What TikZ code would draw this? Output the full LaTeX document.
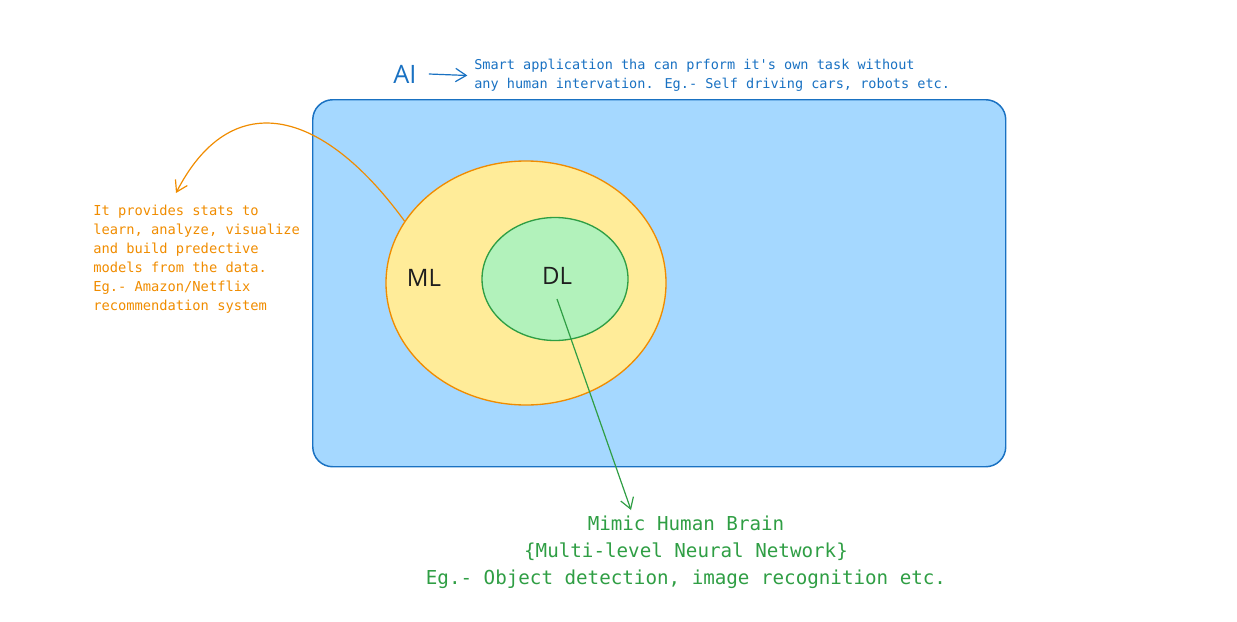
\documentclass[tikz,border=0pt]{standalone}
\usepackage{fontspec}
\setmainfont{DejaVu Sans Mono}[Ligatures=TeXOff]
\newfontfamily\handfont{Open Sans}
\usetikzlibrary{shapes.geometric,arrows.meta}
\definecolor{aifill}{HTML}{A5D8FF}
\definecolor{aistroke}{HTML}{1971C2}
\definecolor{mlfill}{HTML}{FFEC99}
\definecolor{mlstroke}{HTML}{F08C00}
\definecolor{dlfill}{HTML}{B2F2BB}
\definecolor{dlstroke}{HTML}{2F9E44}
\definecolor{ink}{HTML}{1E1E1E}
\tikzset{
  bigbox/.style={draw=aistroke,fill=aifill,line width=1.1pt,rounded corners=15pt},
  blob/.style={ellipse,inner sep=0pt,line width=1pt},
  tag/.style={font=\handfont\fontsize{18}{20}\selectfont,text=ink,inner sep=0pt},
  note/.style={inner sep=0pt,align=left,font=\fontsize{10.3}{14.25}\selectfont},
  conn/.style={line width=0.9pt,-{Straight Barb[length=8pt,width=10pt]}}
}
\begin{document}
\begin{tikzpicture}[x=0.75pt,y=-0.75pt]
\useasboundingbox (0,0) rectangle (1237,621);
% AI region
\node[bigbox,minimum width=693*0.75pt,minimum height=367*0.75pt,anchor=north west] (ai) at (312,99) {};
\node[blob,draw=mlstroke,fill=mlfill,minimum width=280*0.75pt,minimum height=244*0.75pt] (ml) at (526,283) {};
\node[blob,draw=dlstroke,fill=dlfill,minimum width=146*0.75pt,minimum height=123*0.75pt] (dl) at (555,279) {};
\node[tag] (mltag) at (424,278) {ML};
\node[tag] (dltag) at (557,276) {DL};
\node[tag,text=aistroke,font=\handfont\fontsize{19}{21}\selectfont] (aitag) at (405,74) {AI};
% notes
\node[note,text=aistroke,anchor=west,font=\fontsize{10.16}{14.25}\selectfont] (aitext) at (474,75.5) {Smart application tha can prform it's own task without\\any human intervation. Eg.- Self driving cars, robots etc.};
\node[note,text=mlstroke,anchor=west] (mltext) at (93,259) {It provides stats to\\learn, analyze, visualize\\and build predective\\models from the data.\\Eg.- Amazon/Netflix\\recommendation system};
\node[inner sep=0pt,align=center,text=dlstroke,font=\fontsize{14.4}{20.25}\selectfont] (dltext) at (686,552) {Mimic Human Brain\\\{Multi-level Neural Network\}\\Eg.- Object detection, image recognition etc.};
% connectors
\draw[conn,draw=aistroke] ([xshift=9pt]aitag.east) -- ([xshift=-5pt]aitext.west);
\coordinate (mlend) at (176,193);
\draw[conn,draw=mlstroke] (ml.153) .. controls (320,105) and (230,88) .. (mlend);
\coordinate (dlstart) at (557,299);
\coordinate (dlend) at (631,510);
\draw[conn,draw=dlstroke] (dlstart) -- (dlend);
\end{tikzpicture}
\end{document}
